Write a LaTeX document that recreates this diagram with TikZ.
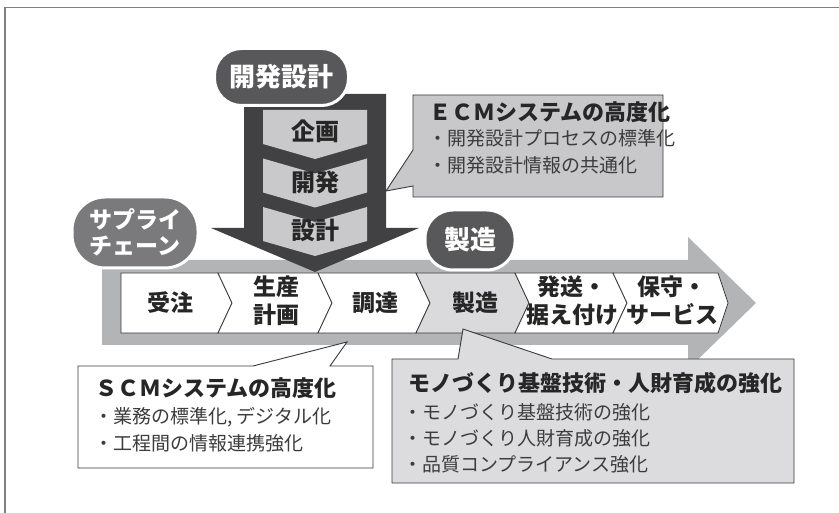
\documentclass[tikz,border=0pt]{standalone}
\usepackage{fontspec}
\newfontfamily\jp{Noto Sans CJK JP}
\definecolor{band}{HTML}{B3B4B6}
\definecolor{darkarrow}{HTML}{414143}
\definecolor{chev}{HTML}{C9C9CB}
\definecolor{bubdark}{HTML}{58585A}
\definecolor{bubmid}{HTML}{7A7A7C}
\definecolor{boxgrey}{HTML}{DADADC}
\definecolor{ecmfill}{HTML}{C8C8CA}
\definecolor{monofill}{HTML}{DCDCDE}
\definecolor{ink}{HTML}{262626}
\definecolor{edge}{HTML}{3A3A3A}
\begin{document}
\begin{tikzpicture}[x=1pt,y=-1pt,
  lbl/.style={font=\jp\bfseries\fontsize{23}{28}\selectfont, text=ink, align=center, inner sep=0pt},
  chevlbl/.style={font=\jp\bfseries\fontsize{24}{28}\selectfont, text=ink, inner sep=0pt},
  bubble/.style={draw=white, line width=3pt, text=white, align=center, inner sep=0pt},
  flowbox/.style={draw=edge, line width=0.8pt, line join=miter},
  callout/.style={draw=edge, line width=0.9pt},
  title/.style={font=\jp\bfseries\fontsize{22}{26}\selectfont, text=ink, anchor=west, inner sep=0pt},
  item/.style={font=\jp\fontsize{19}{26}\selectfont, text=ink!90, anchor=west, inner sep=0pt}]

\useasboundingbox (0,0) rectangle (839,513);
\draw[black!50, line width=1.2pt] (5,513) -- (5,7.5) -- (839,7.5);

% supply chain band
\fill[band] (102,260) -- (688,260) -- (688,237) -- (756,303) -- (688,369) -- (688,345) -- (102,345) -- cycle;

% development arrow
\fill[darkarrow] (244,94) -- (386,94) -- (386,228) -- (419,228) -- (315,272) -- (211,228) -- (244,228) -- cycle;
\fill[chev] (263,110) -- (367,110) -- (367,144) -- (315,159) -- (263,144) -- cycle;
\fill[chev] (263,158.5) -- (315,173.5) -- (367,158.5) -- (367,192.5) -- (315,207.5) -- (263,192.5) -- cycle;
\fill[chev] (263,207) -- (315,222) -- (367,207) -- (367,241) -- (315,256) -- (263,241) -- cycle;
\node[chevlbl] (c1) at (315,131) {企画};
\node[chevlbl] (c2) at (315,182) {開発};
\node[chevlbl] (c3) at (315,230) {設計};

% flow boxes
\draw[flowbox, fill=white] (121,273) -- (218,273) -- (232,303) -- (218,333) -- (121,333) -- cycle;
\draw[flowbox, fill=white] (218,273) -- (318,273) -- (332,303) -- (318,333) -- (218,333) -- (232,303) -- cycle;
\draw[flowbox, fill=white] (318,273) -- (416,273) -- (430,303) -- (416,333) -- (318,333) -- (332,303) -- cycle;
\draw[flowbox, fill=boxgrey] (416,273) -- (515,273) -- (529,303) -- (515,333) -- (416,333) -- (430,303) -- cycle;
\draw[flowbox, fill=white] (515,273) -- (613,273) -- (627,303) -- (613,333) -- (515,333) -- (529,303) -- cycle;
\draw[flowbox, fill=white] (613,273) -- (718,273) -- (728,303) -- (718,333) -- (613,333) -- (627,303) -- cycle;
\node[lbl] (b1) at (170,303) {受注};
\node[lbl] (b2) at (276,301) {生産\\計画};
\node[lbl] (b3) at (375,303) {調達};
\node[lbl] (b4) at (475,303) {製造};
\node[lbl] (b5) at (572,301) {発送・\\据え付け};
\node[lbl] (b6) at (672,301) {保守・\\サービス};

% bubbles
\node[bubble, fill=bubdark, minimum width=134pt, minimum height=57pt, rounded corners=27pt,
      font=\jp\bfseries\fontsize{26}{30}\selectfont] (kaihatsu) at (281.5,77) {開発設計};
\node[bubble, fill=bubmid, minimum width=126pt, minimum height=71pt, rounded corners=33pt,
      font=\jp\bfseries\fontsize{23}{26}\selectfont] (supply) at (135,232.5) {サプライ\\チェーン};
\node[bubble, fill=bubdark, minimum width=90pt, minimum height=60pt, rounded corners=28pt,
      font=\jp\bfseries\fontsize{26}{30}\selectfont] (seizo) at (470,240) {製造};

% callouts
\draw[callout, fill=ecmfill] (413,95) -- (663,95) -- (663,197) -- (413,197) -- (413,186) -- (386,191) -- (413,150) -- cycle;
\draw[callout, fill=white] (78,366) -- (253,366) -- (347,342) -- (330,366) -- (373,366) -- (373,468) -- (78,468) -- cycle;
\draw[callout, fill=monofill] (392,359) -- (458,359) -- (463,329) -- (552,359) -- (794,359) -- (794,483) -- (392,483) -- cycle;

\node[title] (ecmT) at (429,112) {ＥＣＭシステムの高度化};
\node[item] (ecm1) at (428,138) {・開発設計プロセスの標準化};
\node[item] (ecm2) at (428,165) {・開発設計情報の共通化};

\node[title] (scmT) at (95,388) {ＳＣＭシステムの高度化};
\node[item] (scm1) at (94,417) {・業務の標準化, デジタル化};
\node[item] (scm2) at (94,443) {・工程間の情報連携強化};

\node[title] (monoT) at (408,383) {モノづくり基盤技術・人財育成の強化};
\node[item] (mono1) at (403,412) {・モノづくり基盤技術の強化};
\node[item] (mono2) at (403,438) {・モノづくり人財育成の強化};
\node[item] (mono3) at (403,464) {・品質コンプライアンス強化};
\end{tikzpicture}
\end{document}
